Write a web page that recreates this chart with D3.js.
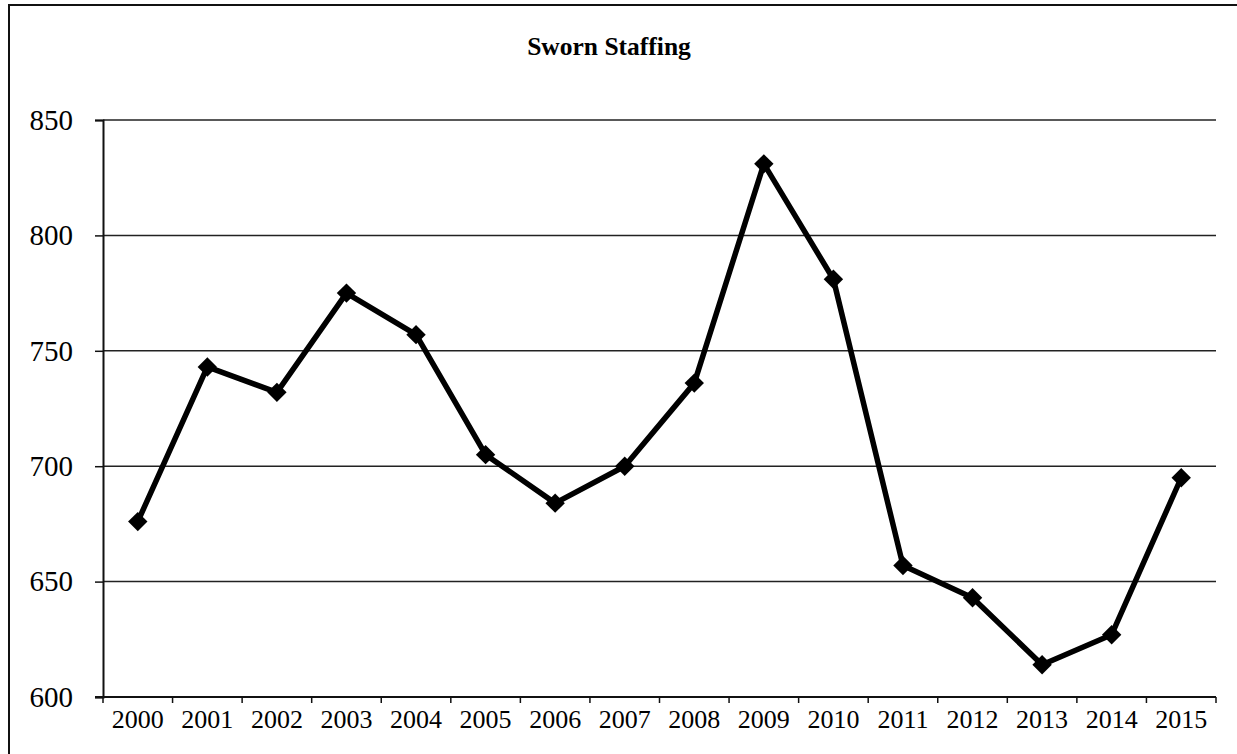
<!DOCTYPE html>
<html>
<head>
<meta charset="utf-8">
<script src="https://cdn.jsdelivr.net/npm/d3@7"></script>
<style>
  body { margin: 0; background: #fff; }
  svg { display: block; }
</style>
</head>
<body>
<svg id="chart" width="1237" height="754"></svg>
<script>
// values
var years = ["2000", "2001", "2002", "2003", "2004", "2005", "2006", "2007",
             "2008", "2009", "2010", "2011", "2012", "2013", "2014", "2015"];
var sworn = [676, 743, 732, 775, 757, 705, 684, 700, 736, 831, 781, 657, 643, 614, 627, 695];
var yTicks = [600, 650, 700, 750, 800, 850];

var svg = d3.select("#chart");
var plotL = 103, plotR = 1216, plotT = 120, plotB = 697;

// outer chart frame (left + top visible only)
svg.append("path")
    .attr("d", "M9,754 L9,5 L1237,5")
    .attr("fill", "none")
    .attr("stroke", "#111")
    .attr("stroke-width", 2);

svg.append("text")
    .attr("x", 609).attr("y", 55)
    .attr("text-anchor", "middle")
    .attr("font-family", "'Liberation Serif', 'Times New Roman', serif")
    .attr("font-weight", "bold")
    .attr("font-size", 25.5)
    .text("Sworn Staffing");

var x = d3.scaleBand().domain(years).range([plotL, plotR]);
var y = d3.scaleLinear().domain([600, 850]).range([plotB, plotT]);

// gridlines
svg.append("g").selectAll("line")
    .data(yTicks.filter(function (d) { return d > 600; }))
    .enter().append("line")
    .attr("x1", plotL).attr("x2", plotR)
    .attr("y1", function (d) { return y(d); })
    .attr("y2", function (d) { return y(d); })
    .attr("stroke", "#222")
    .attr("stroke-width", 1.5);

// y axis
var yAxis = svg.append("g")
    .attr("transform", "translate(" + plotL + ",0)")
    .call(d3.axisLeft(y).tickValues(yTicks).tickSize(8).tickPadding(22));
yAxis.select(".domain").attr("stroke", "#111").attr("stroke-width", 2);
yAxis.selectAll(".tick line").attr("stroke", "#111").attr("stroke-width", 1.5);
yAxis.selectAll("text")
    .attr("font-family", "'Liberation Serif', 'Times New Roman', serif")
    .attr("font-size", 29)
    .attr("fill", "#000");

// x axis: ticks sit between categories
var xAxis = svg.append("g")
    .attr("transform", "translate(0," + plotB + ")");
xAxis.append("line")
    .attr("x1", plotL - 8).attr("x2", plotR)
    .attr("stroke", "#111").attr("stroke-width", 2);
var bounds = years.map(function (d) { return x(d); }).concat([plotR]);
xAxis.selectAll(".tk")
    .data(bounds)
    .enter().append("line")
    .attr("class", "tk")
    .attr("x1", function (d) { return d; })
    .attr("x2", function (d) { return d; })
    .attr("y1", 0).attr("y2", 6)
    .attr("stroke", "#111").attr("stroke-width", 1.5);
xAxis.selectAll("text")
    .data(years)
    .enter().append("text")
    .attr("x", function (d) { return x(d) + x.bandwidth() / 2; })
    .attr("y", 31)
    .attr("text-anchor", "middle")
    .attr("font-family", "'Liberation Serif', 'Times New Roman', serif")
    .attr("font-size", 26)
    .attr("fill", "#000")
    .text(function (d) { return d; });

// series
var pts = years.map(function (d, i) { return { year: d, v: sworn[i] }; });
var line = d3.line()
    .x(function (d) { return x(d.year) + x.bandwidth() / 2; })
    .y(function (d) { return y(d.v); });

svg.append("path")
    .datum(pts)
    .attr("d", line)
    .attr("fill", "none")
    .attr("stroke", "#000")
    .attr("stroke-width", 5.5)
    .attr("stroke-linejoin", "round");

svg.append("g").selectAll("path")
    .data(pts)
    .enter().append("path")
    .attr("d", d3.symbol().type(d3.symbolDiamond2).size(240))
    .attr("transform", function (d) {
        return "translate(" + (x(d.year) + x.bandwidth() / 2) + "," + y(d.v) + ")";
    })
    .attr("fill", "#000");
</script>
</body>
</html>
